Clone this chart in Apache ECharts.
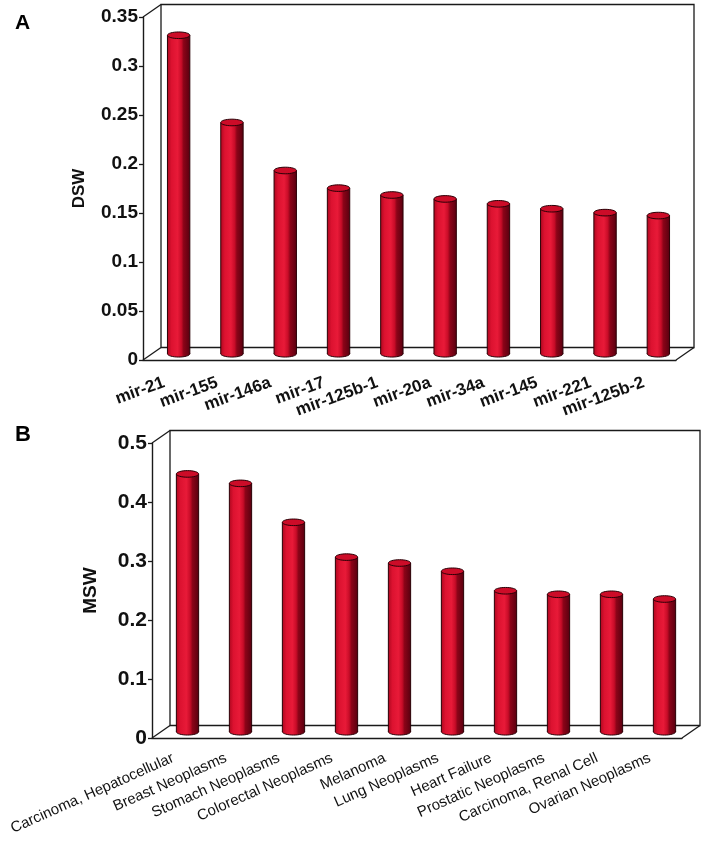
<!DOCTYPE html>
<html>
<head>
<meta charset="utf-8">
<script src="https://cdn.jsdelivr.net/npm/echarts@6/dist/echarts.min.js"></script>
<style>
  html, body { margin: 0; padding: 0; background: #fff; }
  #chart { width: 704px; height: 853px; }
</style>
</head>
<body>
<div id="chart"></div>
<script>
  // panel A
  const mirnaNames = ["mir-21", "mir-155", "mir-146a", "mir-17", "mir-125b-1",
    "mir-20a", "mir-34a", "mir-145", "mir-221", "mir-125b-2"];
  const dswValues = [0.325, 0.236, 0.187, 0.169, 0.162, 0.158, 0.153, 0.148, 0.144, 0.141];
  const dswTicks = { min: 0, max: 0.35, interval: 0.05 };

  // panel B
  const diseaseNames = ["Carcinoma, Hepatocellular", "Breast Neoplasms", "Stomach Neoplasms",
    "Colorectal Neoplasms", "Melanoma", "Lung Neoplasms", "Heart Failure",
    "Prostatic Neoplasms", "Carcinoma, Renal Cell", "Ovarian Neoplasms"];
  const mswValues = [0.437, 0.421, 0.355, 0.296, 0.286, 0.272, 0.239, 0.233, 0.233, 0.225];
  const mswTicks = { min: 0, max: 0.5, interval: 0.1 };

  // fake 3d depth of the box
  const DX = 18, DY = -12.5;
  const LINE = "#1a1a1a";

  // back wall + diagonals, from the grid rect
  function renderFrame(params, api) {
    const c = params.coordSys;
    const st = { stroke: LINE, lineWidth: 1.3, fill: null };
    return {
      type: "group",
      children: [
        { type: "rect", shape: { x: c.x + DX, y: c.y + DY, width: c.width, height: c.height }, style: st },
        { type: "line", shape: { x1: c.x, y1: c.y, x2: c.x + DX, y2: c.y + DY }, style: st },
        { type: "line", shape: { x1: c.x, y1: c.y + c.height, x2: c.x + DX, y2: c.y + c.height + DY }, style: st },
        { type: "line", shape: { x1: c.x + c.width, y1: c.y + c.height, x2: c.x + c.width + DX, y2: c.y + c.height + DY }, style: st }
      ]
    };
  }

  const bodyFill = new echarts.graphic.LinearGradient(0, 0, 1, 0, [
    { offset: 0, color: "#b00820" },
    { offset: 0.18, color: "#dc1230" },
    { offset: 0.45, color: "#e81a38" },
    { offset: 0.62, color: "#c80c28" },
    { offset: 0.72, color: "#8c0418" },
    { offset: 1, color: "#5a0010" }
  ]);

  // cylinder at mid depth
  function renderCylinder(params, api) {
    const top = api.coord([api.value(0), api.value(1)]);
    const base = api.coord([api.value(0), 0]);
    const band = api.size([1, 0])[0];
    const w = band * 0.42;
    const cx = top[0] + DX / 2;
    const yTop = top[1] + DY / 2;
    const yBase = base[1] + DY / 2;
    const ry = 3.3;
    const edge = { stroke: "#2a0006", lineWidth: 1 };
    return {
      type: "group",
      children: [
        { type: "ellipse", shape: { cx: cx, cy: yBase, rx: w / 2, ry: ry },
          style: { fill: bodyFill, stroke: edge.stroke, lineWidth: 1 } },
        { type: "rect", shape: { x: cx - w / 2, y: yTop, width: w, height: yBase - yTop },
          style: { fill: bodyFill } },
        { type: "line", shape: { x1: cx - w / 2, y1: yTop, x2: cx - w / 2, y2: yBase }, style: edge },
        { type: "line", shape: { x1: cx + w / 2, y1: yTop, x2: cx + w / 2, y2: yBase }, style: edge },
        { type: "ellipse", shape: { cx: cx, cy: yTop, rx: w / 2, ry: ry },
          style: { fill: "#cc0c28", stroke: edge.stroke, lineWidth: 1 } }
      ]
    };
  }

  function makeX(idx, names, font, rot, margin) {
    return {
      type: "category", gridIndex: idx, data: names,
      axisLine: { lineStyle: { color: LINE, width: 1.4 } },
      axisTick: { length: 6, lineStyle: { color: LINE, width: 1.3 } },
      axisLabel: { interval: 0, rotate: rot, margin: margin, padding: [0, 6, 0, 0], color: "#111",
        fontFamily: "Liberation Sans", fontSize: font.size, fontWeight: font.weight }
    };
  }

  function makeY(idx, ticks, name, nameSize, labelSize, gap) {
    return {
      type: "value", gridIndex: idx, min: ticks.min, max: ticks.max, interval: ticks.interval,
      name: name, nameLocation: "middle", nameGap: gap,
      nameTextStyle: { fontFamily: "Liberation Sans", fontWeight: "bold", fontSize: nameSize, color: "#111" },
      axisLine: { show: true, lineStyle: { color: LINE, width: 1.4 } },
      axisTick: { show: true, length: 4, lineStyle: { color: LINE, width: 1.3 } },
      axisLabel: { margin: 5, color: "#111", fontFamily: "Liberation Sans",
        fontWeight: "bold", fontSize: labelSize },
      splitLine: { show: false }
    };
  }

  const chart = echarts.init(document.getElementById("chart"), null, { renderer: "canvas" });

  const option = {
    backgroundColor: "#fff",
    animation: false,
    title: [
      { text: "A", left: 10, top: 8, textStyle: { fontFamily: "Liberation Sans", fontSize: 21, fontWeight: "bold", color: "#000" } },
      { text: "B", left: 10, top: 419, textStyle: { fontFamily: "Liberation Sans", fontSize: 22, fontWeight: "bold", color: "#000" } }
    ],
    grid: [
      { left: 143, top: 17, width: 533, height: 343 },
      { left: 152, top: 443, width: 530, height: 295 }
    ],
    xAxis: [
      makeX(0, mirnaNames, { size: 17, weight: "bold" }, 20, 20),
      makeX(1, diseaseNames, { size: 15, weight: "normal" }, 24, 17)
    ],
    yAxis: [
      makeY(0, dswTicks, "DSW", 17, 19, 55),
      makeY(1, mswTicks, "MSW", 19, 21, 52)
    ],
    series: [
      { type: "custom", xAxisIndex: 0, yAxisIndex: 0, z: 1, silent: true,
        data: [[0, 0]], renderItem: renderFrame },
      { type: "custom", xAxisIndex: 1, yAxisIndex: 1, z: 1, silent: true,
        data: [[0, 0]], renderItem: renderFrame },
      { type: "custom", xAxisIndex: 0, yAxisIndex: 0, z: 2,
        data: dswValues.map((v, i) => [i, v]), renderItem: renderCylinder },
      { type: "custom", xAxisIndex: 1, yAxisIndex: 1, z: 2,
        data: mswValues.map((v, i) => [i, v]), renderItem: renderCylinder }
    ]
  };

  chart.setOption(option);
</script>
</body>
</html>
